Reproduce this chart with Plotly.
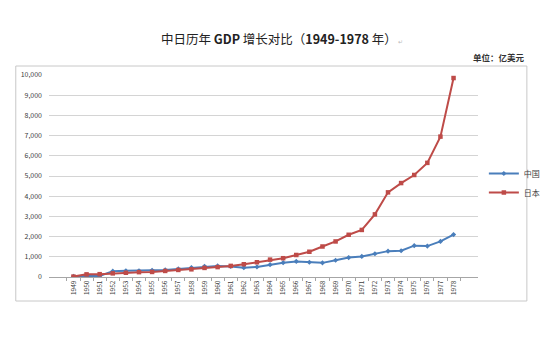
import plotly.graph_objects as go

years = [str(y) for y in range(1949, 1979)]
china = [30, 60, 50, 290, 310, 310, 330, 350, 400, 470, 530, 550, 520, 460, 500, 610,
         710, 770, 730, 700, 830, 960, 1020, 1150, 1280, 1300, 1550, 1530, 1760, 2100]
japan = [20, 130, 140, 180, 210, 240, 250, 300, 350, 380, 450, 490, 550, 630, 730, 860,
         930, 1090, 1250, 1510, 1760, 2090, 2330, 3100, 4190, 4650, 5050, 5650, 6950, 9850]
y_ticks = list(range(0, 10001, 1000))

W, H = 557, 352
L, R, T, B = 49, 488, 75, 277  # plot area in pixels


def px(x):
    return (x - L) / (R - L)


def py(y):
    return (B - y) / (B - T)


fig = go.Figure()
fig.add_trace(go.Scatter(x=years, y=china, name="中国", mode="lines+markers",
                         line=dict(color="#4a7ebb", width=2),
                         marker=dict(symbol="diamond", size=4, color="#4a7ebb")))
fig.add_trace(go.Scatter(x=years, y=japan, name="日本", mode="lines+markers",
                         line=dict(color="#be4b48", width=2),
                         marker=dict(symbol="square", size=4.5, color="#be4b48")))

fig.update_layout(
    width=W, height=H,
    margin=dict(l=L, r=W - R, t=T, b=H - B, pad=0),
    paper_bgcolor="white", plot_bgcolor="white",
    font=dict(family="Noto Sans CJK SC, Open Sans, sans-serif", color="#404040"),
    showlegend=True,
    legend=dict(x=px(494), y=py(183), xanchor="left", yanchor="middle",
                font=dict(size=8, color="#404040"), bgcolor="rgba(0,0,0,0)",
                itemwidth=30, tracegroupgap=0),
    xaxis=dict(type="category", tickangle=-90, tickfont=dict(size=6.5, color="#404040"),
               showgrid=False, showline=True, linecolor="#a6a6a6", linewidth=1,
               ticks="outside", tickson="boundaries", ticklen=3, tickcolor="#a6a6a6",
               fixedrange=True),
    yaxis=dict(range=[0, 10000], tickvals=y_ticks, tickformat=",",
               tickfont=dict(size=7, color="#404040"),
               showgrid=True, gridcolor="#d4d4d4", gridwidth=1,
               showline=False, zeroline=False, ticks="", ticklabelstandoff=6),
)

# chart frame
fig.add_shape(type="rect", xref="paper", yref="paper",
              x0=px(15), x1=px(538), y0=py(301), y1=py(66),
              line=dict(color="#c8c8c8", width=1), fillcolor="rgba(0,0,0,0)", layer="below")

# title
fig.add_annotation(xref="paper", yref="paper", x=px(284), y=py(38), xanchor="center",
                   yanchor="middle", showarrow=False,
                   text="中日历年 <b>GDP</b> 增长对比（<b>1949-1978</b> 年）",
                   font=dict(size=12.5, color="#222222"))
fig.add_annotation(xref="paper", yref="paper", x=px(409), y=py(41), xanchor="center",
                   yanchor="middle", showarrow=False, text="↵",
                   font=dict(size=6, color="#bbbbbb"))
# unit
fig.add_annotation(xref="paper", yref="paper", x=px(538), y=py(57), xanchor="right",
                   yanchor="middle", showarrow=False, text="<b>单位：亿美元</b>",
                   font=dict(size=8.5, color="#333333"))

fig.write_html("out.html")
